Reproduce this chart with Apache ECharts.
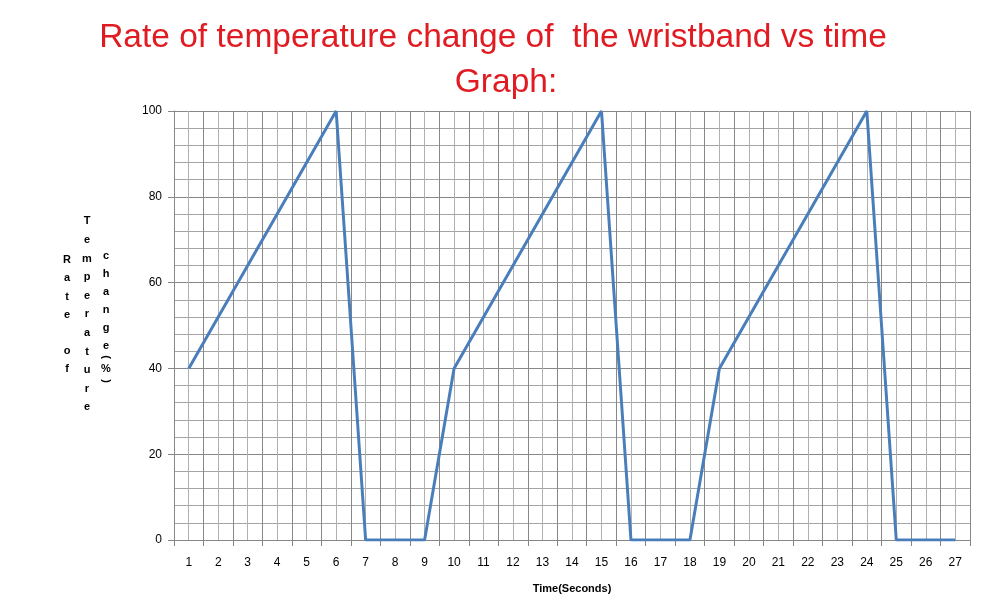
<!DOCTYPE html>
<html><head><meta charset="utf-8">
<script src="https://cdn.jsdelivr.net/npm/echarts@6/dist/echarts.min.js"></script>
<style>html,body{margin:0;padding:0;background:#fff}#c{width:992px;height:615px}</style>
</head><body><div id="c"></div>
<script>
var categories = ['1','2','3','4','5','6','7','8','9','10','11','12','13','14','15','16','17','18','19','20','21','22','23','24','25','26','27'];
var rateValues = [40,52,64,76,88,100,0,0,0,40,52,64,76,88,100,0,0,0,40,52,64,76,88,100,0,0,0];
var yTicks = {min:0, max:100, interval:20};
var titleLine1 = 'Rate of temperature change of  the wristband vs time';
var titleLine2 = 'Graph:';
var xName = 'Time(Seconds)';
var halfSteps = [];
for (var i = 0; i < categories.length * 2; i++) halfSteps.push('h' + i);

var chart = echarts.init(document.getElementById('c'), null, {renderer:'canvas'});
var yLetters = 'bold 11px "Liberation Sans", Arial, sans-serif';
var titleFont = '33.5px "Liberation Sans", Arial, sans-serif';
chart.setOption({
  animation:false,
  backgroundColor:'#fff',
  grid:{left:174, right:22, top:111, bottom:75, containLabel:false},
  xAxis:[{
    type:'category', data:categories, boundaryGap:true,
    axisLine:{lineStyle:{color:'#868686', width:1}},
    axisTick:{show:true, length:6, lineStyle:{color:'#868686'}},
    axisLabel:{color:'#000', fontSize:12, margin:17, fontFamily:'"Liberation Sans", Arial, sans-serif'},
    splitLine:{show:true, lineStyle:{color:'#888888', width:1}},
    name:xName, nameLocation:'middle', nameGap:43,
    nameTextStyle:{fontWeight:'bold', fontSize:11, color:'#000', fontFamily:'"Liberation Sans", Arial, sans-serif'},
    z:3
  },{
    type:'category', data:halfSteps, boundaryGap:true, position:'bottom',
    axisLine:{show:false}, axisTick:{show:false}, axisLabel:{show:false},
    splitLine:{show:true, interval:function(idx){return idx % 2 === 1;}, lineStyle:{color:'#b0b0b0', width:1}}
  }],
  yAxis:{
    type:'value', min:yTicks.min, max:yTicks.max, interval:yTicks.interval,
    axisLine:{show:true, lineStyle:{color:'#868686'}},
    axisTick:{show:true, length:6, lineStyle:{color:'#868686'}},
    axisLabel:{color:'#000', fontSize:12, margin:12, fontFamily:'"Liberation Sans", Arial, sans-serif'},
    splitLine:{show:true, lineStyle:{color:'#888888'}},
    minorTick:{show:false, splitNumber:5},
    minorSplitLine:{show:true, lineStyle:{color:'#a4a4a4'}}
  },
  series:[{
    type:'line', xAxisIndex:0, data:rateValues, symbol:'none',
    lineStyle:{color:'#4A7EBB', width:3}, z:5
  }],
  graphic:[
    {type:'text', style:{text:titleLine1, x:493, y:37.5, align:'center', verticalAlign:'middle', fill:'#E11B22', font:titleFont}},
    {type:'text', style:{text:titleLine2, x:506, y:82.5, align:'center', verticalAlign:'middle', fill:'#E11B22', font:titleFont}},
    {type:'text', style:{text:'R\na\nt\ne\n\no\nf', x:67, y:251, align:'center', verticalAlign:'top', lineHeight:18.2, fill:'#000', font:yLetters}},
    {type:'text', style:{text:'T\ne\nm\np\ne\nr\na\nt\nu\nr\ne', x:87, y:212, align:'center', verticalAlign:'top', lineHeight:18.6, fill:'#000', font:yLetters}},
    {type:'text', style:{text:'c\nh\na\nn\ng\ne', x:106, y:247, align:'center', verticalAlign:'top', lineHeight:18, fill:'#000', font:yLetters}},
    {type:'text', rotation:-Math.PI/2, x:106, y:357, style:{text:'(', x:0, y:0, align:'center', verticalAlign:'middle', fill:'#000', font:yLetters}},
    {type:'text', style:{text:'%', x:106, y:369, align:'center', verticalAlign:'middle', fill:'#000', font:yLetters}},
    {type:'text', rotation:-Math.PI/2, x:106, y:381, style:{text:')', x:0, y:0, align:'center', verticalAlign:'middle', fill:'#000', font:yLetters}}
  ]
});
</script></body></html>
